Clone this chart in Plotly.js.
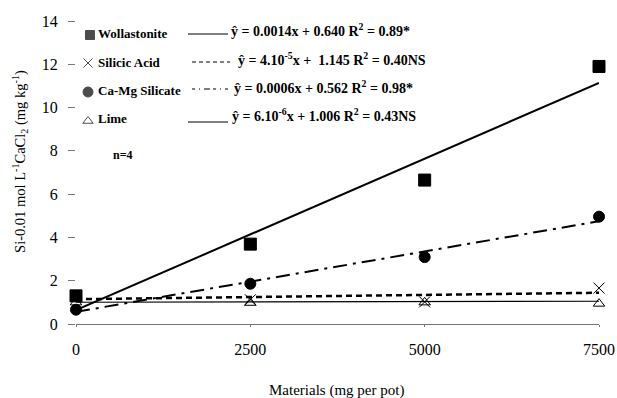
<!DOCTYPE html>
<html>
<head>
<meta charset="utf-8">
<script src="https://cdn.plot.ly/plotly-3.0.1.min.js"></script>
<style>html,body{margin:0;padding:0;background:#fff}#chart{width:617px;height:398px}</style>
</head>
<body>
<div id="chart"></div>
<script>
// ---- data ----
var doses = [0, 2500, 5000, 7500];
var wollastonite = [1.3, 3.69, 6.65, 11.9];
var silicicAcid = [1.3, 1.12, 1.02, 1.66];
var caMgSilicate = [0.66, 1.86, 3.09, 4.96];
var lime = [1.0, 0.98, 1.0, 0.94];
var fitX = [0, 7500];
var fitWollastonite = [0.64, 11.14];
var fitSilicic = [1.145, 1.445];
var fitCaMg = [0.562, 4.75];
var fitLime = [1.006, 1.051];
var seriesNames = ["Wollastonite", "Silicic Acid", "Ca-Mg Silicate", "Lime"];
var equations = [
  "ŷ = 0.0014x + 0.640 R<sup>2</sup> = 0.89*",
  "ŷ = 4.10<sup>-5</sup>x +  1.145 R<sup>2</sup> = 0.40NS",
  "ŷ = 0.0006x + 0.562 R<sup>2</sup> = 0.98*",
  "ŷ = 6.10<sup>-6</sup>x + 1.006 R<sup>2</sup> = 0.43NS"
];
var xTicks = [0, 2500, 5000, 7500];
var yTicks = [0, 2, 4, 6, 8, 10, 12, 14];
var xTitle = "Materials (mg per pot)";
var yTitle = "Si-0.01 mol L<sup>-1</sup>CaCl<sub>2</sub> (mg kg<sup>-1</sup>)";
var note = "n=4";

// ---- styling ----
var symbols = ["square", "x-thin-open", "circle", "triangle-up-open"];
var markerSizes = [12, 11, 11, 10];
var dashes = ["solid", "6px,4px", "14px,6px,3px,6px", "solid"];
var widths = [2, 2.5, 2, 1.2];
var serif = "Liberation Serif";

var traces = [];
var pts = [wollastonite, silicicAcid, caMgSilicate, lime];
var fits = [fitWollastonite, fitSilicic, fitCaMg, fitLime];
for (var i = 3; i >= 0; i--) {
  traces.push({x: fitX, y: fits[i], mode: "lines", type: "scatter",
    line: {color: "#000", width: widths[i], dash: dashes[i]}, cliponaxis: false, hoverinfo: "skip"});
}
for (var i = 3; i >= 0; i--) {
  traces.push({x: doses, y: pts[i], mode: "markers", type: "scatter", cliponaxis: false,
    marker: {symbol: symbols[i], size: markerSizes[i], color: "#000",
      line: {color: "#000", width: 1}}});
}

// legend block (overlay axes measured in pixels)
var rowY = [33, 62, 90, 118];
var eqX = [229, 236, 232, 230];
traces.push({x: [90, 88, 88, 88], y: [35, 63, 92, 121], xaxis: "x2", yaxis: "y2",
  mode: "markers", type: "scatter", cliponaxis: false,
  marker: {symbol: symbols, size: [9, 9, 10, 9], color: "#000", line: {color: "#000", width: 1}}});

var annotations = [];
var shapes = [];
var lineSamples = [[188, 228, 34, "solid"], [192, 230, 62, "4px,3px"], [192, 228, 89, "3px,4px,1px,4px,6px,3px"], [188, 228, 122, "solid"]];
for (var i = 0; i < 4; i++) {
  annotations.push({xref: "x2", yref: "y2", x: 96, y: rowY[i], xanchor: "left", yanchor: "middle",
    text: "<b>" + seriesNames[i] + "</b>", showarrow: false, font: {family: serif, size: 13, color: "#000"}});
  annotations.push({xref: "x2", yref: "y2", x: eqX[i], y: rowY[i] - 3, xanchor: "left", yanchor: "middle",
    text: "<b>" + equations[i] + "</b>", showarrow: false, font: {family: serif, size: 14, color: "#000"}});
  shapes.push({type: "line", xref: "x2", yref: "y2", x0: lineSamples[i][0], x1: lineSamples[i][1],
    y0: lineSamples[i][2], y1: lineSamples[i][2], line: {color: "#000", width: 1, dash: lineSamples[i][3]}});
}
annotations.push({xref: "x2", yref: "y2", x: 111, y: 155, xanchor: "left", yanchor: "middle",
  text: "<b>" + note + "</b>", showarrow: false, font: {family: serif, size: 12, color: "#000"}});
// axis titles in paper coordinates (plot area spans px 76-599 horizontally, 21-324 vertically)
annotations.push({xref: "paper", yref: "paper", x: 0.499, y: -0.221, xanchor: "center", yanchor: "middle",
  text: xTitle, showarrow: false, font: {family: serif, size: 15, color: "#000"}});
annotations.push({xref: "paper", yref: "paper", x: -0.107, y: 0.535, xanchor: "center", yanchor: "middle", textangle: -90,
  text: yTitle, showarrow: false, font: {family: serif, size: 14.5, color: "#000"}});

var layout = {
  width: 617, height: 398,
  margin: {l: 76, r: 18, t: 21, b: 74},
  paper_bgcolor: "#fff", plot_bgcolor: "#fff",
  showlegend: false,
  font: {family: serif, size: 16, color: "#000"},
  xaxis: {range: [0, 7500], tickvals: xTicks, ticktext: xTicks.map(String),
    showgrid: false, zeroline: false, showline: true, linecolor: "#777", linewidth: 1,
    ticks: "outside", ticklen: 2, tickcolor: "#777", ticklabelstandoff: 9,
    tickfont: {family: serif, size: 16}},
  yaxis: {range: [0, 14], tickvals: yTicks, ticktext: yTicks.map(String),
    showgrid: false, zeroline: false, showline: false,
    ticks: "outside", ticklen: 7, tickcolor: "#777", ticklabelstandoff: 7,
    tickfont: {family: serif, size: 16}},
  xaxis2: {overlaying: "x", range: [76, 599], visible: false, fixedrange: true},
  yaxis2: {overlaying: "y", range: [324, 21], visible: false, fixedrange: true},
  annotations: annotations,
  shapes: shapes
};
Plotly.newPlot("chart", traces, layout, {displayModeBar: false});
</script>
</body>
</html>
